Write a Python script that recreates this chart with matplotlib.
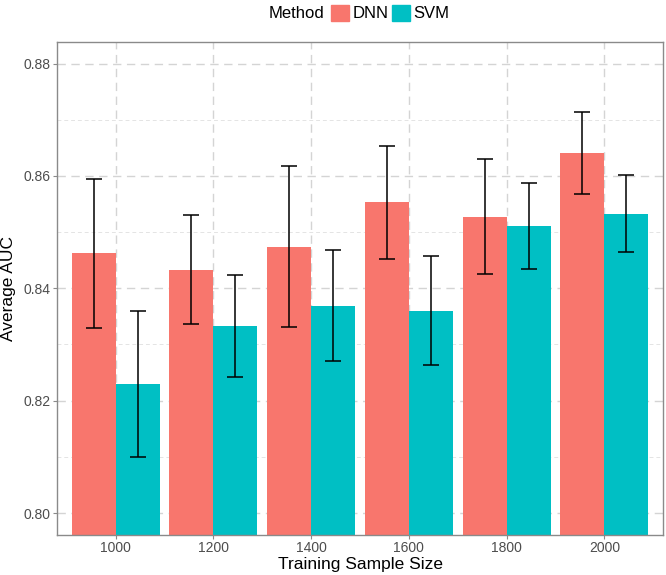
import numpy as np
import matplotlib
matplotlib.use("Agg")
import matplotlib.pyplot as plt
from matplotlib.patches import Patch

# dados
tamanhos = ["1000", "1200", "1400", "1600", "1800", "2000"]
dnn_media = [0.8462, 0.8433, 0.8474, 0.8553, 0.8527, 0.8641]
dnn_sup = [0.8594, 0.8530, 0.8617, 0.8653, 0.8630, 0.8713]
dnn_inf = [0.8330, 0.8336, 0.8331, 0.8452, 0.8425, 0.8568]
svm_media = [0.8230, 0.8333, 0.8368, 0.8360, 0.8511, 0.8533]
svm_sup = [0.8360, 0.8423, 0.8468, 0.8458, 0.8588, 0.8602]
svm_inf = [0.8100, 0.8242, 0.8270, 0.8263, 0.8435, 0.8465]

cor_dnn = "#F8766D"
cor_svm = "#00BFC4"

plt.rcParams["font.family"] = ["Liberation Sans", "DejaVu Sans"]

W, H = 666, 575
fig = plt.figure(figsize=(W / 100, H / 100), dpi=100)
# área do gráfico em pixels: esquerda 57, direita 663, topo 42, base 535
ax = fig.add_axes([57 / W, 1 - 535 / H, (663 - 57) / W, (535 - 42) / H])

x = np.arange(len(tamanhos))
larg = 0.45

def desenha(pos, media, sup, inf, cor):
    media = np.array(media)
    err = [media - np.array(inf), np.array(sup) - media]
    ax.bar(pos, media, width=larg, color=cor, zorder=2)
    ax.errorbar(pos, media, yerr=err, fmt="none", ecolor="black",
                elinewidth=1.1, capsize=6, capthick=1.1, zorder=3)

desenha(x - larg / 2, dnn_media, dnn_sup, dnn_inf, cor_dnn)
desenha(x + larg / 2, svm_media, svm_sup, svm_inf, cor_svm)

ax.set_xlim(-0.6, len(tamanhos) - 0.4)
ax.set_ylim(0.79609, 0.88384)
ax.set_xticks(x)
ax.set_xticklabels(tamanhos)
ax.set_yticks([0.80, 0.82, 0.84, 0.86, 0.88])
ax.set_yticklabels(["0.80", "0.82", "0.84", "0.86", "0.88"])
ax.set_yticks([0.81, 0.83, 0.85, 0.87], minor=True)

# grade tracejada no estilo ggplot
ax.grid(which="major", axis="both", color="#d4d4d4", linestyle=(0, (6, 4)), linewidth=1.0, zorder=0)
ax.grid(which="minor", axis="y", color="#e4e4e4", linestyle=(0, (4, 3)), linewidth=0.7, zorder=0)
ax.set_axisbelow(True)

for lado in ax.spines.values():
    lado.set_color("#8a8a8a")
    lado.set_linewidth(1.0)

ax.tick_params(axis="both", which="major", colors="#8a8a8a", labelcolor="#4d4d4d",
               labelsize=10, length=2.75, pad=1.8)
ax.tick_params(axis="y", which="minor", length=0)

ax.set_xlabel("Training Sample Size", fontsize=12.5)
ax.xaxis.set_label_coords(0.5, -(565 - 535) / (535 - 42))
ax.xaxis.label.set_va("center")
ax.set_ylabel("Average AUC", fontsize=12.5, va="center")
ax.yaxis.set_label_coords(-(57 - 9) / (663 - 57), 0.5)

# legenda no topo
fig.text(324 / W, 1 - 13 / H, "Method", fontsize=12, ha="right", va="center")
handles = [Patch(color=cor_dnn, label="DNN"), Patch(color=cor_svm, label="SVM")]
fig.legend(handles=handles, loc="center left", bbox_to_anchor=(331 / W, 1 - 13 / H),
           ncol=2, frameon=False, fontsize=12, handlelength=1.1, handleheight=1.1,
           handletextpad=0.2, columnspacing=0.2, borderpad=0, borderaxespad=0)

fig.savefig("out.png", dpi=100)
